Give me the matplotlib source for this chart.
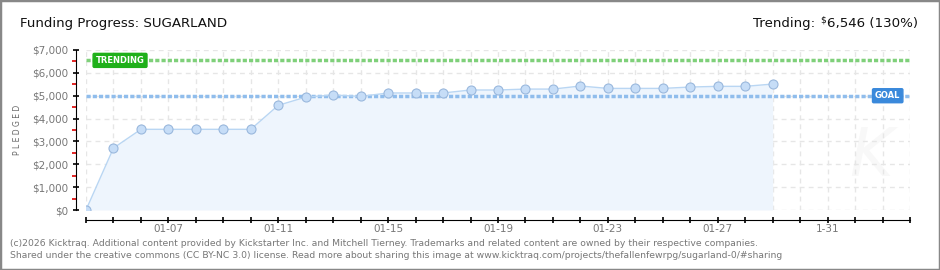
import matplotlib
matplotlib.use('Agg')
import matplotlib.pyplot as plt
import numpy as np

# pledged totals, one per day starting 01-04
days = np.arange(26)
pledged = [0, 2710, 3530, 3530, 3530, 3530, 3530, 4580, 4940, 5030,
           4970, 5120, 5120, 5120, 5250, 5250, 5290, 5290, 5425, 5320,
           5320, 5320, 5380, 5410, 5410, 5510]
goal = 5000
trending = 6546
tickDays = np.arange(31)
labelDays = [3, 7, 11, 15, 19, 23, 27]
dayLabels = ['01-07', '01-11', '01-15', '01-19', '01-23', '01-27', '1-31']
yTicks = np.arange(0, 7001, 1000)
yLabels = [f"${int(v):,}" for v in yTicks]

W, H = 940, 270
fig = plt.figure(figsize=(W / 100, H / 100), dpi=100)
fig.patch.set_facecolor('white')

def px(x, y):
    return x / W, 1 - y / H

# plot area: day 0..30 -> x 86..910, $0..$7000 -> y 210..50
ax = fig.add_axes([86 / W, (H - 210) / H, 824 / W, 160 / H])
ax.set_xlim(0, 30)
ax.set_ylim(0, 7000)
ax.patch.set_alpha(0)

ax.grid(True, color='#e6e6e6', linestyle=(0, (3.5, 3)), linewidth=1, zorder=0)
ax.set_axisbelow(True)

for s in ['top', 'right']:
    ax.spines[s].set_visible(False)
ax.spines['left'].set_position(('outward', 7.5))
ax.spines['bottom'].set_position(('outward', 7.5))
ax.spines['left'].set_bounds(0, 7000)
ax.spines['bottom'].set_bounds(0, 30)

ax.set_yticks(yTicks)
ax.set_yticklabels(yLabels)
ax.set_yticks(np.arange(500, 7000, 1000), minor=True)
ax.tick_params(axis='y', which='major', direction='inout', length=5, width=1.2,
               color='black', labelsize=7.5, labelcolor='#777777', pad=3)
ax.tick_params(axis='y', which='minor', direction='out', length=3, width=1.2, color='#dd0000')

ax.set_xticks(tickDays)
ax.set_xticklabels(['' for _ in tickDays])
ax.tick_params(axis='x', which='major', direction='inout', length=5, width=1.2,
               color='black', labelsize=7.5, labelcolor='#777777')
for d, lbl in zip(labelDays, dayLabels):
    ax.text(d, -0.085, lbl, transform=ax.get_xaxis_transform(), ha='center', va='top',
            fontsize=7.5, color='#777777')

ax.set_ylabel('P L E D G E D', fontsize=5.5, color='#666666', labelpad=7)

# trending and goal lines
ax.axhline(trending, color='#7fd07a', linestyle=(0, (1.2, 0.6)), linewidth=2.5, zorder=2)
ax.axhline(goal, color='#90bdec', linestyle=(0, (1.2, 0.6)), linewidth=2.5, zorder=3)

# pledged series
ax.fill_between(days, pledged, 0, color='#eef5fd', zorder=1, linewidth=0)
ax.plot(days, pledged, color='#b9d6f3', linewidth=1, zorder=4)
ax.plot(days, pledged, linestyle='none', marker='o', markersize=6.5,
        markerfacecolor='#c6ddf7', markeredgecolor='#9ab8dd', markeredgewidth=0.8, zorder=5)

# line labels
ax.text(0.35, trending, 'TRENDING', fontsize=6, color='white', fontweight='bold',
        ha='left', va='center', zorder=6,
        bbox=dict(boxstyle='round,pad=0.3,rounding_size=0.15', fc='#1fb01a', ec='#1fb01a'))
ax.text(29.65, goal, 'GOAL', fontsize=6, color='white', fontweight='bold',
        ha='right', va='center', zorder=6,
        bbox=dict(boxstyle='round,pad=0.3,rounding_size=0.15', fc='#3a89db', ec='#3a89db'))

# faint watermark
ax.text(28.6, 2300, 'K', fontsize=48, fontstyle='italic', color='#f8f8f8',
        ha='center', va='center', zorder=0)

# titles
fig.text(*px(20, 23), 'Funding Progress: SUGARLAND', fontsize=9.6, color='#111111',
         ha='left', va='center')
tr = fig.text(*px(918, 23), '6,546 (130%)', fontsize=9.6, color='#111111',
              ha='right', va='center')
fig.canvas.draw()
bb = tr.get_window_extent()
dol = fig.text(bb.x0 - 1, H - 20, '$', fontsize=6.5, color='#111111', ha='right',
               va='center', transform=None)
bb2 = dol.get_window_extent()
fig.text(bb2.x0 - 5, H - 23, 'Trending:', fontsize=9.6, color='#111111', ha='right',
         va='center', transform=None)

# footer
fig.text(*px(10, 243), '(c)2026 Kicktraq. Additional content provided by Kickstarter Inc. and Mitchell Tierney. '
         'Trademarks and related content are owned by their respective companies.',
         fontsize=6.65, color='#777777', ha='left', va='center')
fig.text(*px(10, 256), 'Shared under the creative commons (CC BY-NC 3.0) license. Read more about sharing this image at '
         'www.kicktraq.com/projects/thefallenfewrpg/sugarland-0/#sharing',
         fontsize=6.65, color='#777777', ha='left', va='center')

# outer border
fig.add_artist(plt.Rectangle((0, 0), 1, 1, transform=fig.transFigure, fill=False,
                             edgecolor='#888888', linewidth=2.5))

fig.savefig('out.png', dpi=100)
